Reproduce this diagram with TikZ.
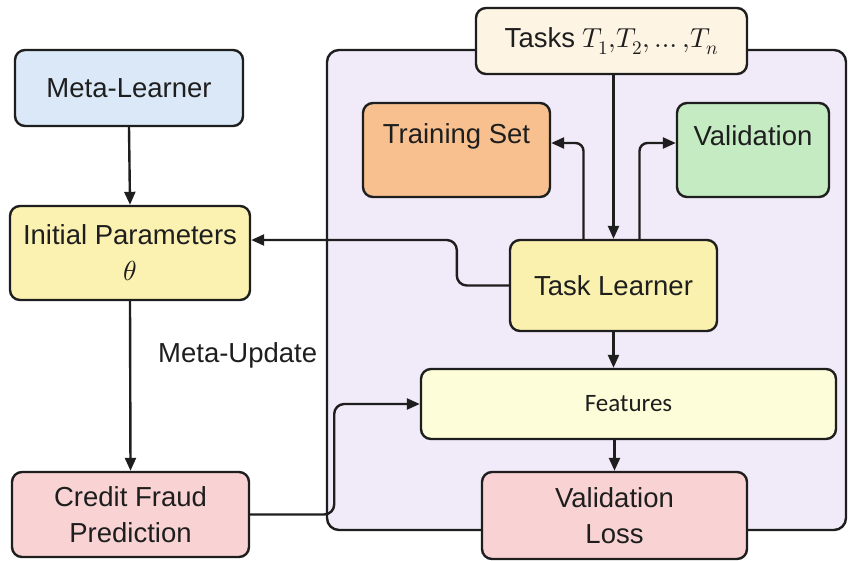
\documentclass[tikz,border=0pt]{standalone}
\usepackage{fontspec}
\usepackage{unicode-math}
\setmainfont{Liberation Sans}
\setmathfont{Latin Modern Math}
\newfontfamily\featfont{Carlito}
\usetikzlibrary{arrows.meta}
\definecolor{cML}{HTML}{DBE8F8}
\definecolor{cIP}{HTML}{FBF2B2}
\definecolor{cCF}{HTML}{F9D3D3}
\definecolor{cPanel}{HTML}{F1EAF8}
\definecolor{cTasks}{HTML}{FDF4E3}
\definecolor{cTS}{HTML}{F8C08F}
\definecolor{cVA}{HTML}{C5EBC3}
\definecolor{cTL}{HTML}{FBF1AE}
\definecolor{cFE}{HTML}{FEFDD9}
\definecolor{ink}{HTML}{1E1E1E}
\tikzset{
  box/.style={draw=ink, line width=2.4pt, rounded corners=10pt, inner sep=0pt, align=center,
    text=ink, font=\fontsize{27.5}{36}\selectfont},
  lbl/.style={text=ink, inner sep=0pt, font=\fontsize{27.5}{36}\selectfont},
  arr/.style={draw=ink, line width=2.4pt, -{Triangle[length=13pt,width=11pt]}},
  ln/.style={draw=ink, line width=2.4pt},
}
\begin{document}
\begin{tikzpicture}[x=1pt,y=-1pt]
\useasboundingbox (0,0) rectangle (848,560);
% panel
\draw[ln, fill=cPanel, rounded corners=12pt] (327,50) rectangle (846,530);
% left column
\node[box, fill=cML, minimum width=228pt, minimum height=76pt] (ML) at (129,88) {Meta-Learner};
\node[box, fill=cIP, minimum width=240pt, minimum height=94pt] (IP) at (130,253) {Initial Parameters\\$\theta$};
\node[box, fill=cCF, minimum width=237pt, minimum height=85pt] (CF) at (130.5,514.5) {Credit Fraud\\Prediction};
\node[lbl, anchor=west] (MU) at (158,355) {Meta-Update};
% right panel nodes
\node[box, fill=cTasks, minimum width=271pt, minimum height=66pt] (TA) at (611.5,41) {Tasks $T_1{,}T_2,\ldots{,}T_n$};
\node[box, fill=cTS, minimum width=187pt, minimum height=94pt] (TS) at (456.5,150) {};
\node[lbl] (TSt) at (456.5,136) {Training Set};
\node[box, fill=cVA, minimum width=152pt, minimum height=94pt] (VA) at (753,150) {};
\node[lbl] (VAt) at (753,136) {Validation};
\node[box, fill=cTL, minimum width=207pt, minimum height=91pt] (TL) at (613.5,285.5) {Task Learner};
\node[box, fill=cFE, minimum width=415pt, minimum height=70pt, font=\featfont\fontsize{25}{28}\selectfont] (FE) at (628.5,404) {Features};
\node[box, fill=cCF, minimum width=265pt, minimum height=87pt] (VL) at (614.5,515.5) {Validation\\Loss};
% connectors
\draw[arr] (TA.south -| TL.north) -- (TL.north);
\draw[arr] (ML.south) -- (IP.north);
\draw[arr] (IP.south) -- (CF.north);
\draw[arr, rounded corners=8pt] ([xshift=-30pt]TL.north) |- ([yshift=7pt]TS.east);
\draw[arr, rounded corners=8pt] ([xshift=26pt]TL.north) |- ([yshift=7pt]VA.west);
\draw[arr, rounded corners=10pt] (TL.west) -- ++(-52,0) |- ([yshift=13pt]IP.east);
\draw[arr] (TL.south) -- (TL.south |- FE.north);
\draw[arr] (VL.north |- FE.south) -- (VL.north);
\draw[arr, rounded corners=10pt] (CF.east) -- ++(84,0) |- (FE.west);
\end{tikzpicture}
\end{document}
